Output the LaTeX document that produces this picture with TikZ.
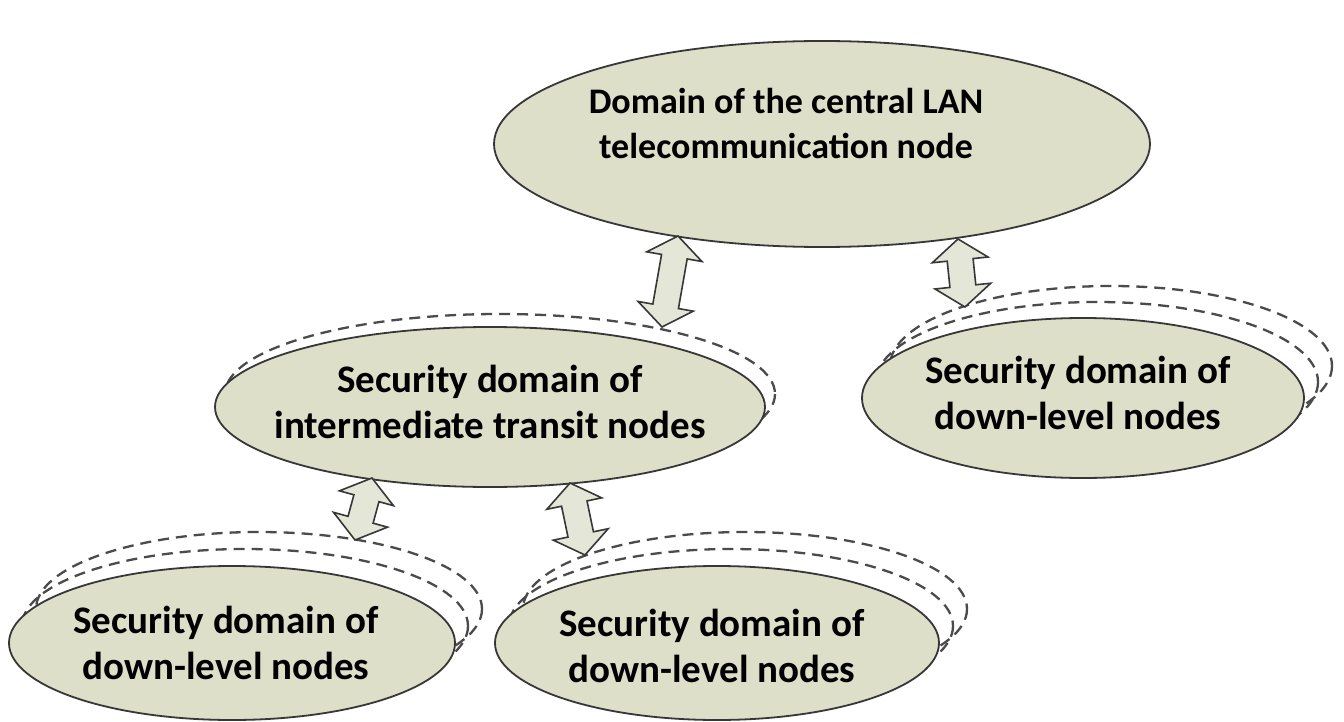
\documentclass[tikz,border=0pt]{standalone}
\usepackage{fontspec}
\setmainfont{Carlito}
\usetikzlibrary{shapes.geometric,calc}

\definecolor{domfill}{RGB}{221,223,201}
\definecolor{arrfill}{RGB}{228,230,216}
\definecolor{edge}{RGB}{55,55,55}

% double-headed block arrow between two named tips
\newcommand\blockarrow[2]{%
  \filldraw[arrowbody]
    (#1)
    -- ($($(#1)!21pt!(#2)$)!28pt!90:(#2)$)
    -- ($($(#1)!21pt!(#2)$)!13pt!90:(#2)$)
    -- ($($(#2)!21pt!(#1)$)!13pt!-90:(#1)$)
    -- ($($(#2)!21pt!(#1)$)!28pt!-90:(#1)$)
    -- (#2)
    -- ($($(#2)!21pt!(#1)$)!28pt!90:(#1)$)
    -- ($($(#2)!21pt!(#1)$)!13pt!90:(#1)$)
    -- ($($(#1)!21pt!(#2)$)!13pt!-90:(#2)$)
    -- ($($(#1)!21pt!(#2)$)!28pt!-90:(#2)$)
    -- cycle;}

\begin{document}
\begin{tikzpicture}[x=1pt,y=-1pt,
  domnode/.style={ellipse, draw=edge, line width=1.8pt, fill=domfill, inner sep=0pt},
  domtext/.style={font=\bfseries\fontsize{39}{46}\selectfont, align=center, text=black},
  ring/.style={draw=edge!90, line width=2.3pt, dash pattern=on 11pt off 7pt},
  arrowbody/.style={draw=edge, line width=1.6pt, fill=arrfill, line join=miter}]
\useasboundingbox (0,0) rectangle (1344,722);
\fill[white] (0,0) rectangle (1344,722);

% outer dashed rings, drawn first so the domains cover their inner parts
\coordinate (midc) at (490,407);
\coordinate (rgtc) at (1083,398);
\coordinate (blc)  at (232,643);
\coordinate (bmc)  at (717,643);

\draw[ring] ($(midc)+(10,-13)$) ellipse [x radius=275, y radius=80];
\draw[ring] ($(rgtc)+(14,-16)$) ellipse [x radius=221, y radius=80];
\draw[ring] ($(rgtc)+(28,-32)$) ellipse [x radius=221, y radius=80];
\draw[ring] ($(blc)+(13,-17)$) ellipse [x radius=223, y radius=77];
\draw[ring] ($(blc)+(27,-34)$) ellipse [x radius=223, y radius=77];
\draw[ring] ($(bmc)+(14,-17)$) ellipse [x radius=222, y radius=77];
\draw[ring] ($(bmc)+(28,-34)$) ellipse [x radius=222, y radius=77];

% domains
\node[domnode, minimum width=656pt, minimum height=206pt] (top) at (822,144) {};
\node[domnode, minimum width=550pt, minimum height=160pt] (mid) at (midc) {};
\node[domnode, minimum width=442pt, minimum height=160pt] (rgt) at (rgtc) {};
\node[domnode, minimum width=446pt, minimum height=154pt] (bl)  at (blc) {};
\node[domnode, minimum width=444pt, minimum height=154pt] (bm)  at (bmc) {};

\node[domtext, font=\bfseries\fontsize{36}{45}\selectfont] (topT) at (786,124)
  {Domain of the central LAN\\telecommunication node};
\node[domtext] (midT) at (490,402) {Security domain of\\intermediate transit nodes};
\node[domtext] (rgtT) at (1078,393) {Security domain of\\down-level nodes};
\node[domtext] (blT)  at (226,643) {Security domain of\\down-level nodes};
\node[domtext] (bmT)  at (712,646) {Security domain of\\down-level nodes};

% links between the domains
\coordinate (a1u) at (678,236);
\coordinate (a1d) at (662,327);
\coordinate (a2u) at (958,239);
\coordinate (a2d) at (965,307);
\coordinate (a3u) at (372,478);
\coordinate (a3d) at (355,540);
\coordinate (a4u) at (570,483);
\coordinate (a4d) at (585,555);

\blockarrow{a1u}{a1d}
\blockarrow{a2u}{a2d}
\blockarrow{a3u}{a3d}
\blockarrow{a4u}{a4d}
\end{tikzpicture}
\end{document}
